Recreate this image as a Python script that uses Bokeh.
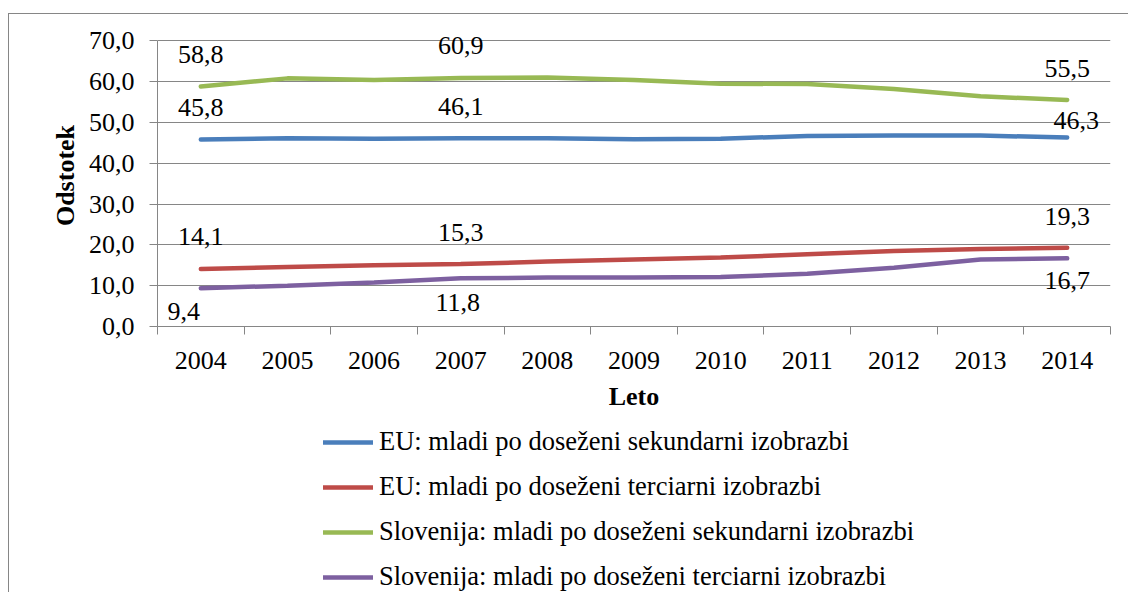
from bokeh.plotting import figure
from bokeh.layouts import column
from bokeh.models import Range1d, FixedTicker, Legend, LegendItem, ColumnDataSource
from bokeh.core.properties import value
from bokeh.embed import file_html
from bokeh.resources import INLINE

# ---- data ----
years = [2004, 2005, 2006, 2007, 2008, 2009, 2010, 2011, 2012, 2013, 2014]
eu_sek = [45.8, 46.1, 46.0, 46.1, 46.1, 45.9, 46.0, 46.7, 46.8, 46.8, 46.3]
eu_ter = [14.1, 14.6, 15.0, 15.3, 15.9, 16.4, 16.9, 17.7, 18.5, 19.0, 19.3]
si_sek = [58.8, 60.8, 60.4, 60.9, 61.0, 60.4, 59.5, 59.4, 58.2, 56.4, 55.5]
si_ter = [9.4, 10.0, 10.8, 11.8, 12.0, 12.0, 12.1, 12.9, 14.4, 16.4, 16.7]
series_names = [
    "EU: mladi po doseženi sekundarni izobrazbi",
    "EU: mladi po doseženi terciarni izobrazbi",
    "Slovenija: mladi po doseženi sekundarni izobrazbi",
    "Slovenija: mladi po doseženi terciarni izobrazbi",
]
y_ticks = [0, 10, 20, 30, 40, 50, 60, 70]
y_tick_labels = ["0,0", "10,0", "20,0", "30,0", "40,0", "50,0", "60,0", "70,0"]
label_years = [2004, 2007, 2014]
x_label = "Leto"
y_label = "Odstotek"

# ---- styles ----
colors = ["#4A7EBB", "#BE4B48", "#98B954", "#7D60A0"]
# per-series, per-labelled-year screen offsets (dx, dy) for data labels
label_offsets = [
    [(0, -32), (0, -32), (9, -17)],
    [(0, -32), (0, -32), (0, -31)],
    [(0, -32), (0, -32), (0, -32)],
    [(-17, 23), (-3, 24), (0, 22)],
]
FONT = "Liberation Serif"
GRAY = "#868686"

all_series = [eu_sek, eu_ter, si_sek, si_ter]

# ---- main chart ----
p = figure(width=1119, height=406, output_backend="svg", toolbar_location=None,
           x_range=Range1d(2003.5, 2014.5), y_range=Range1d(0, 74),
           min_border_left=148, min_border_right=18, min_border_top=10,
           min_border_bottom=94)
p.outline_line_color = None
p.xgrid.grid_line_color = None
p.ygrid.grid_line_color = GRAY
p.ygrid.grid_line_width = 1

for vals, col in zip(all_series, colors):
    p.line(years, vals, line_color=col, line_width=4.5, line_cap="round")

# data labels
lx, ly, lt, dx, dy = [], [], [], [], []
for vals, offs in zip(all_series, label_offsets):
    for yr, (ox, oy) in zip(label_years, offs):
        v = vals[years.index(yr)]
        lx.append(yr)
        ly.append(v)
        lt.append(f"{v:.1f}".replace(".", ","))
        dx.append(ox)
        dy.append(oy)
src = ColumnDataSource(dict(x=lx, y=ly, t=lt, dx=dx, dy=dy))
p.text(x="x", y="y", text="t", x_offset="dx", y_offset="dy", source=src,
       text_font=value(FONT), text_font_size="26px", text_color="black",
       text_align="center", text_baseline="middle")

# x axis
xa = p.xaxis[0]
xa.ticker = FixedTicker(ticks=years, minor_ticks=[y + 0.5 for y in [years[0] - 1] + years])
xa.major_tick_out = 0
xa.major_tick_in = 0
xa.minor_tick_out = 8
xa.minor_tick_in = 0
xa.minor_tick_line_color = GRAY
xa.axis_line_color = GRAY
xa.major_label_text_font = FONT
xa.major_label_text_font_size = "26px"
xa.major_label_text_color = "black"
xa.major_label_standoff = 17
xa.axis_label = x_label
xa.axis_label_text_font = FONT
xa.axis_label_text_font_size = "26px"
xa.axis_label_text_font_style = "bold"
xa.axis_label_text_color = "black"
xa.axis_label_standoff = 10

# y axis
ya = p.yaxis[0]
ya.ticker = FixedTicker(ticks=y_ticks, minor_ticks=[])
ya.bounds = (y_ticks[0], y_ticks[-1])
ya.major_label_overrides = {t: l for t, l in zip(y_ticks, y_tick_labels)}
ya.major_tick_out = 8
ya.major_tick_in = 0
ya.major_tick_line_color = GRAY
ya.axis_line_color = GRAY
ya.major_label_text_font = FONT
ya.major_label_text_font_size = "26px"
ya.major_label_text_color = "black"
ya.major_label_standoff = 15
ya.axis_label = y_label
ya.axis_label_text_font = FONT
ya.axis_label_text_font_size = "26px"
ya.axis_label_text_font_style = "bold"
ya.axis_label_text_color = "black"
ya.axis_label_standoff = 6

# ---- legend panel ----
pleg = figure(width=1119, height=172, output_backend="svg", toolbar_location=None,
              x_axis_location=None, y_axis_location=None,
              min_border_left=0, min_border_right=0, min_border_top=0, min_border_bottom=0)
pleg.outline_line_color = None
pleg.xgrid.visible = False
pleg.ygrid.visible = False
leg_renderers = [pleg.line(years, vals, line_color=col, line_width=4.5, line_cap="round",
                           visible=False)
                 for vals, col in zip(all_series, colors)]

legend = Legend(items=[LegendItem(label=n, renderers=[r]) for n, r in zip(series_names, leg_renderers)],
                location=(166, 0), orientation="vertical",
                label_text_font=FONT, label_text_font_size="26.5px", label_text_color="black",
                glyph_width=50, glyph_height=30, label_height=30, spacing=14,
                label_standoff=6, padding=0, margin=0,
                border_line_color=None, background_fill_alpha=0,
                inactive_fill_alpha=0)
pleg.add_layout(legend, "center")

layout = column(p, pleg, spacing=0,
                styles={"border-left": "1px solid " + GRAY, "border-top": "1px solid " + GRAY,
                        "margin-top": "13px", "margin-left": "8px"})

open("out.html", "w").write(file_html(layout, INLINE))
